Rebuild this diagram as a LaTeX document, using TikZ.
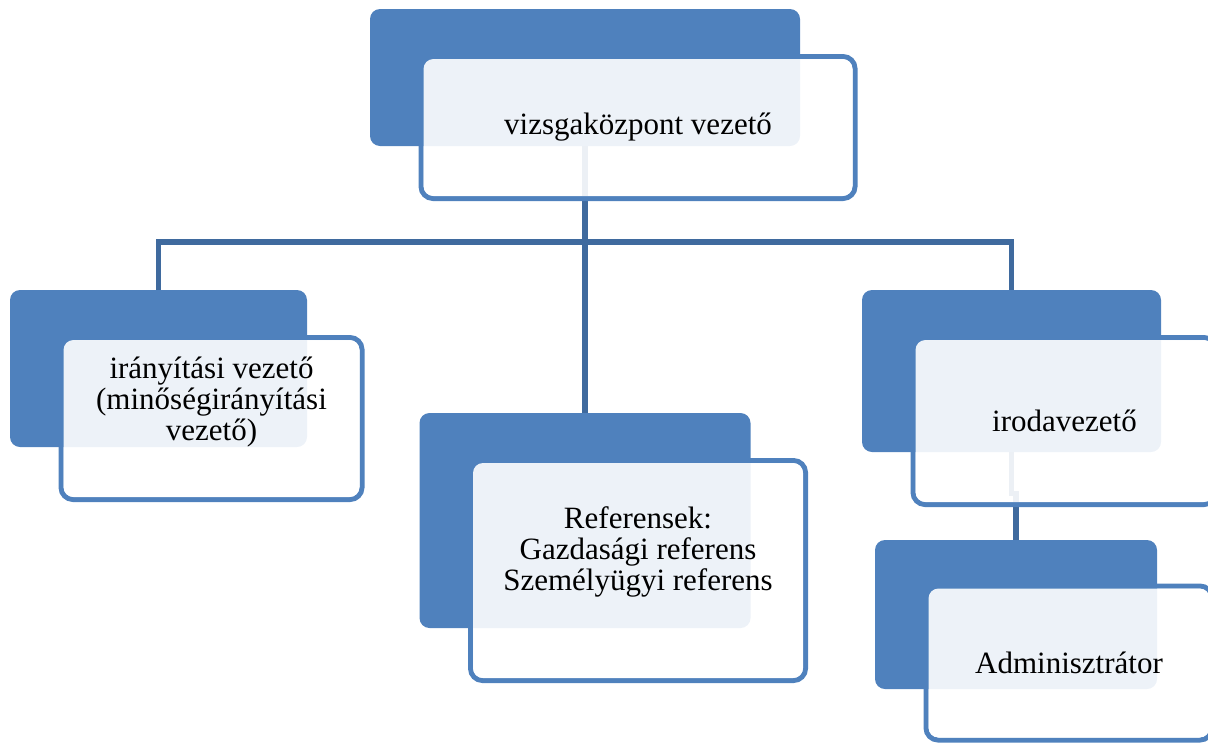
\documentclass[tikz,border=0pt]{standalone}
\usepackage{fontspec}
\setmainfont{Liberation Serif}
\usetikzlibrary{calc,backgrounds}
\definecolor{blokk}{HTML}{4F81BD}
\definecolor{vonal}{HTML}{3F6A9E}
\tikzset{every picture/.style={line width=0.75pt}}

\begin{document}
\begin{tikzpicture}[x=1pt, y=-1pt,
    sotet/.style 2 args={fill=blokk, rounded corners=10pt, inner sep=0pt, minimum width=#1, minimum height=#2},
    keret/.style 2 args={draw=blokk, line width=5pt, rounded corners=12pt, inner sep=0pt, minimum width=#1+4pt, minimum height=#2+5pt},
    fatyol/.style 2 args={fill=white, fill opacity=0.9, rounded corners=10pt, inner sep=0pt, minimum width=#1-1pt, minimum height=#2},
    felirat/.style={font=\fontsize{31}{31}\selectfont, align=center, text=black},
    kapcsolo/.style={draw=vonal, line width=5.5pt}]
    \clip (0,0) rectangle (1208,742);

    % keretek (a sotet blokkok mogott)
    \node[keret={430pt}{137pt}] (vezeto-b) at (638,127.5) {};
    \node[keret={297pt}{157pt}] (iranyitasi-b) at (211.5,418.5) {};
    \node[keret={331pt}{215pt}] (referensek-b) at (638,570.5) {};
    \node[keret={299pt}{162pt}] (iroda-b) at (1064.5,421) {};
    \node[keret={282pt}{149pt}] (admin-b) at (1069,663) {};

    % sotet blokkok
    \node[sotet={430pt}{137pt}] (vezeto) at (585,77.5) {};
    \node[sotet={297pt}{157pt}] (iranyitasi) at (158.5,368.5) {};
    \node[sotet={331pt}{215pt}] (referensek) at (585,520.5) {};
    \node[sotet={299pt}{162pt}] (iroda) at (1011.5,371) {};
    \node[sotet={282pt}{149pt}] (admin) at (1016,614.5) {};

    % attetszo feher retegek a keretekben
    \node[fatyol={430pt}{137pt}] at (vezeto-b) {};
    \node[fatyol={297pt}{157pt}] at (iranyitasi-b) {};
    \node[fatyol={331pt}{215pt}] at (referensek-b) {};
    \node[fatyol={299pt}{162pt}] at (iroda-b) {};
    \node[fatyol={282pt}{149pt}] at (admin-b) {};

    % feliratok
    \node[felirat] (vezeto-t) at (vezeto-b) {vizsgaközpont vezető};
    \node[felirat] (iranyitasi-t) at ($(iranyitasi-b)+(0,-16)$) {irányítási vezető\\(minőségirányítási\\vezető)};
    \node[felirat] (referensek-t) at ($(referensek-b)+(0,-19)$) {Referensek:\\Gazdasági referens\\Személyügyi referens};
    \node[felirat] (iroda-t) at (iroda-b) {irodavezető};
    \node[felirat] (admin-t) at (admin-b) {Adminisztrátor};

    % osszekoto vonalak
    \coordinate (sin) at (0,242);
    \begin{scope}[on background layer]
        \draw[kapcsolo] (vezeto.south) -- (referensek.north);
        \draw[kapcsolo] (iranyitasi.north) |- (vezeto.south |- sin) -| (iroda.north);
        \draw[kapcsolo] (iroda.south) -- ++(0,41) -| (admin.north);
    \end{scope}
\end{tikzpicture}
\end{document}
